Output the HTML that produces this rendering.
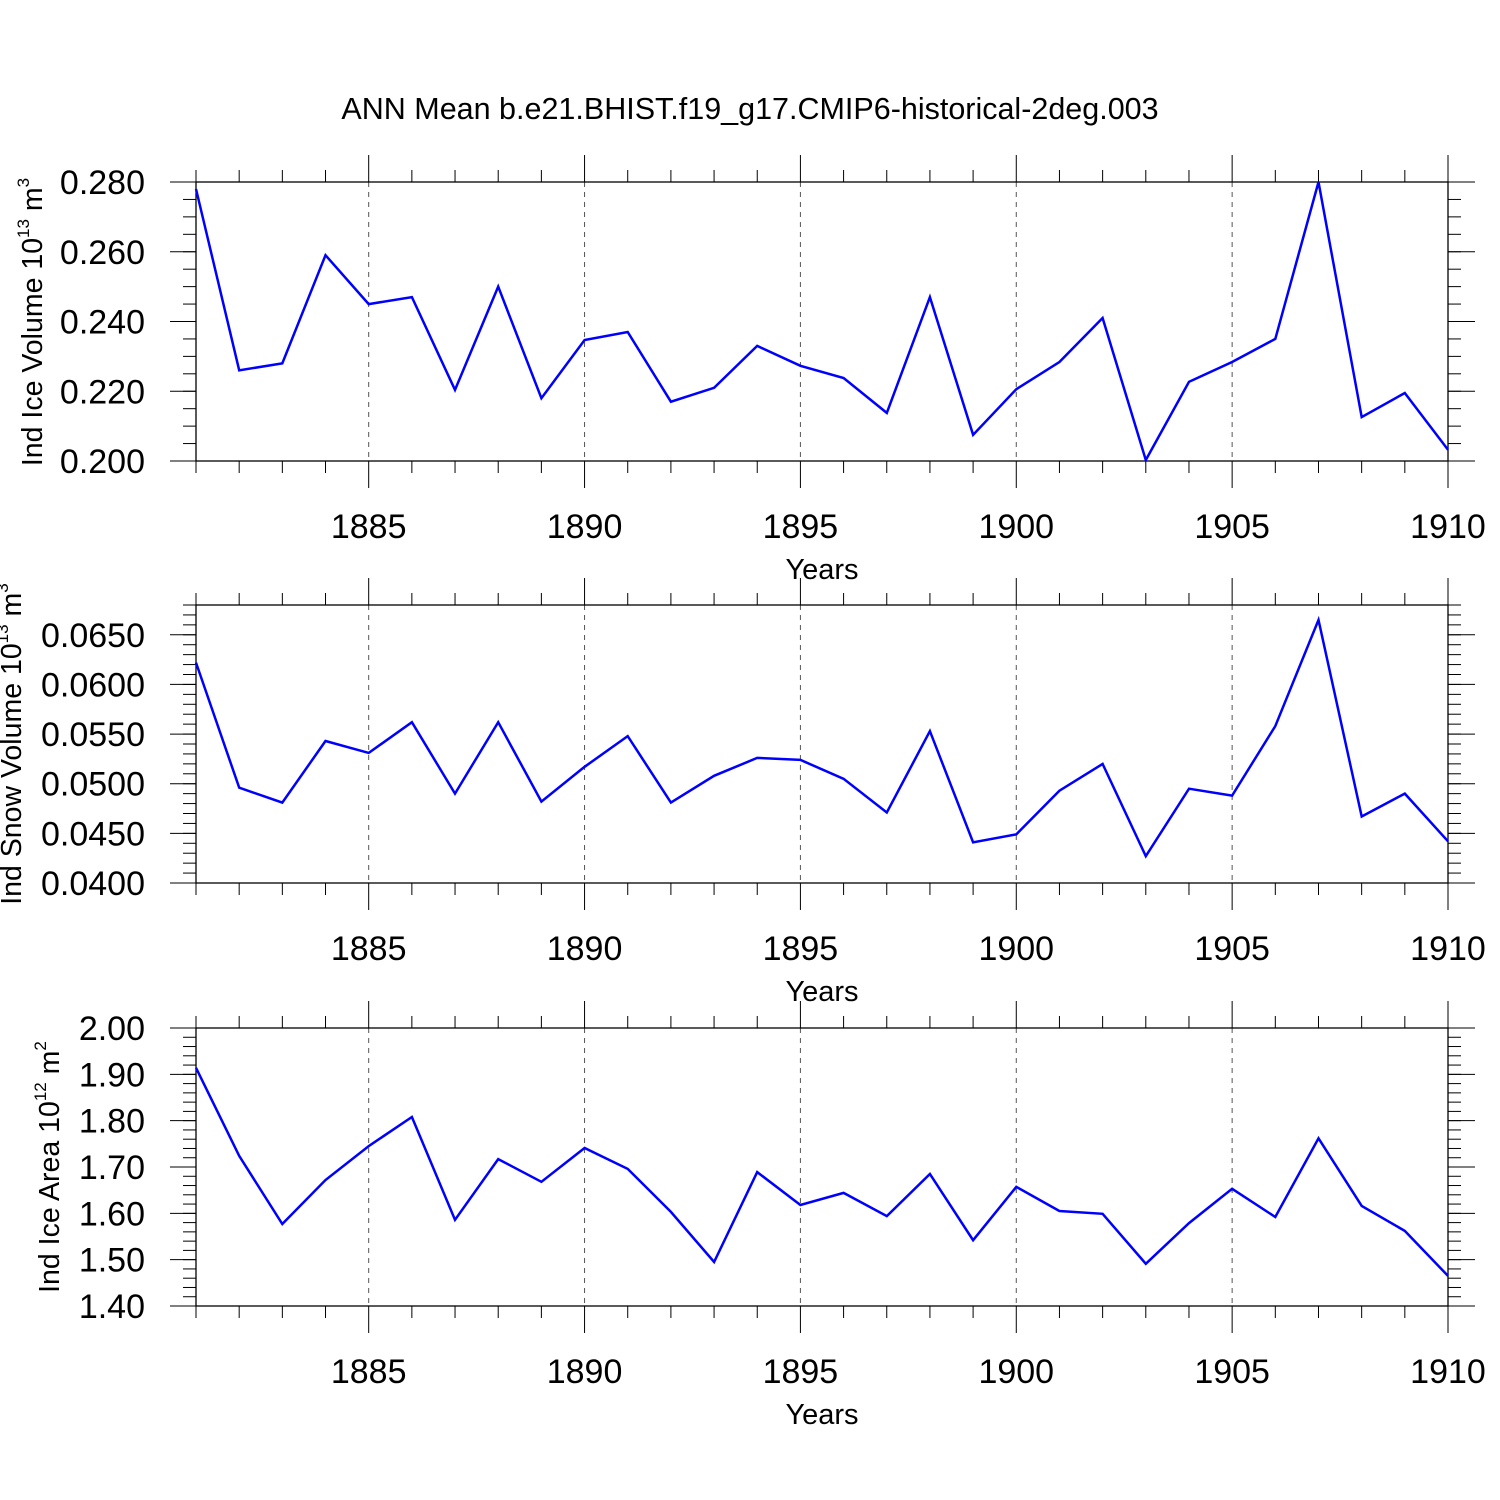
<!DOCTYPE html>
<html><head><meta charset="utf-8"><style>
html,body{margin:0;padding:0;background:#fff;}
svg{display:block;font-family:"Liberation Sans",Arial,sans-serif;}
</style></head><body>
<svg id="chart" width="1500" height="1500" viewBox="0 0 1500 1500">
<text x="750" y="119" font-size="30.5" text-anchor="middle">ANN Mean b.e21.BHIST.f19_g17.CMIP6-historical-2deg.003</text>
</svg>
<script>
const years=[1881,1882,1883,1884,1885,1886,1887,1888,1889,1890,1891,1892,1893,1894,1895,1896,1897,1898,1899,1900,1901,1902,1903,1904,1905,1906,1907,1908,1909,1910];
const iceVolume=[0.278,0.226,0.228,0.259,0.245,0.247,0.2204,0.250,0.218,0.2347,0.237,0.217,0.221,0.233,0.2273,0.2238,0.2138,0.247,0.2075,0.2206,0.2284,0.241,0.2003,0.2227,0.2284,0.235,0.280,0.2126,0.2195,0.2032];
const snowVolume=[0.0622,0.0496,0.0481,0.0543,0.0531,0.0562,0.0490,0.0562,0.0482,0.0517,0.0548,0.0481,0.0508,0.0526,0.0524,0.0505,0.0471,0.0553,0.0441,0.0449,0.0493,0.0520,0.0427,0.0495,0.0488,0.0558,0.0665,0.0467,0.0490,0.0442];
const iceArea=[1.914,1.724,1.577,1.672,1.745,1.808,1.586,1.717,1.668,1.741,1.696,1.603,1.495,1.689,1.618,1.644,1.594,1.685,1.542,1.657,1.605,1.599,1.491,1.579,1.653,1.592,1.762,1.616,1.562,1.465];
const xTicks=[1885,1890,1895,1900,1905,1910];
const iceVolTicks=[0.200,0.220,0.240,0.260,0.280];
const snowTicks=[0.0400,0.0450,0.0500,0.0550,0.0600,0.0650];
const areaTicks=[1.40,1.50,1.60,1.70,1.80,1.90,2.00];

const NS='http://www.w3.org/2000/svg';
const svg=document.getElementById('chart');
const X0=196,X1=1448;
const xs=v=>X0+(v-1881)/(1910-1881)*(X1-X0);
function el(tag,attrs,parent){const e=document.createElementNS(NS,tag);for(const k in attrs)e.setAttribute(k,attrs[k]);(parent||svg).appendChild(e);return e;}

function panel(cfg){
  const g=el('g',{});
  
  
  const ys=v=>cfg.yb+(v-cfg.vmin)/(cfg.vmax-cfg.vmin)*(cfg.yt-cfg.yb);
  const top=cfg.yt,bot=cfg.yb;
  xTicks.forEach(t=>{ if(t<1910){const l=el('line',{x1:xs(t),x2:xs(t),y1:top,y2:bot,stroke:'#555','stroke-width':1,'stroke-dasharray':'5,5'},g);
    
    }});
  const fr=el('rect',{x:X0,y:top,width:X1-X0,height:bot-top,fill:'none',stroke:'#000','stroke-width':1.3},g);
  
  
  years.forEach(y=>{const maj=xTicks.includes(y);const L=maj?27:12;const x=xs(y);
    el('line',{x1:x,x2:x,y1:top-L,y2:top,stroke:'#000','stroke-width':1},g);
    el('line',{x1:x,x2:x,y1:bot,y2:bot+L,stroke:'#000','stroke-width':1},g);});
  xTicks.forEach(t=>{const tx=el('text',{x:xs(t),y:bot+77,'font-size':34,'text-anchor':'middle'},g);tx.textContent=t;
    
    });
  const xt=el('text',{x:822,y:bot+118,'font-size':29,'text-anchor':'middle'},g);xt.textContent='Years';
  
  
  const n=Math.round((cfg.vmax-cfg.vmin)/cfg.minor);
  for(let i=0;i<=n;i++){const v=cfg.vmin+i*cfg.minor;const y=ys(v);
    el('line',{x1:X0-13,x2:X0,y1:y,y2:y,stroke:'#000','stroke-width':1},g);
    el('line',{x1:X1,x2:X1+13,y1:y,y2:y,stroke:'#000','stroke-width':1},g);}
  cfg.ticks.forEach(v=>{const y=ys(v);
    el('line',{x1:X0-26,x2:X0,y1:y,y2:y,stroke:'#000','stroke-width':1},g);
    el('line',{x1:X1,x2:X1+27,y1:y,y2:y,stroke:'#000','stroke-width':1},g);
    const tx=el('text',{x:145,y:y+12,'font-size':34,'text-anchor':'end'},g);tx.textContent=v.toFixed(cfg.dec);
    
    });
  const yt=el('text',{x:0,y:0,'font-size':28.5,'text-anchor':'middle',transform:`translate(${cfg.tx},${cfg.ty}) rotate(-90)`},g);
  yt.innerHTML=cfg.title+' 10<tspan font-size="17" dy="-13">'+cfg.exp+'</tspan><tspan dy="13"> m</tspan><tspan font-size="17" dy="-13">'+cfg.unit+'</tspan>';
  
  
  const pts=cfg.data.map((v,i)=>xs(years[i]).toFixed(1)+','+ys(v).toFixed(1)).join(' ');
  const pl=el('polyline',{points:pts,fill:'none',stroke:'#0000ff','stroke-width':2.5,'stroke-linejoin':'miter'},g);
  
  
}
panel({name:'ice-volume-panel',yt:182,yb:461,vmin:0.200,vmax:0.280,minor:0.005,ticks:iceVolTicks,dec:3,data:iceVolume,title:'Ind Ice Volume',exp:'13',unit:'3',tx:42,ty:322});
panel({name:'snow-volume-panel',yt:605,yb:883,vmin:0.040,vmax:0.068,minor:0.001,ticks:snowTicks,dec:4,data:snowVolume,title:'Ind Snow Volume',exp:'13',unit:'3',tx:21,ty:744});
panel({name:'ice-area-panel',yt:1028,yb:1306,vmin:1.40,vmax:2.00,minor:0.02,ticks:areaTicks,dec:2,data:iceArea,title:'Ind Ice Area',exp:'12',unit:'2',tx:59,ty:1167});
</script>
</body></html>
